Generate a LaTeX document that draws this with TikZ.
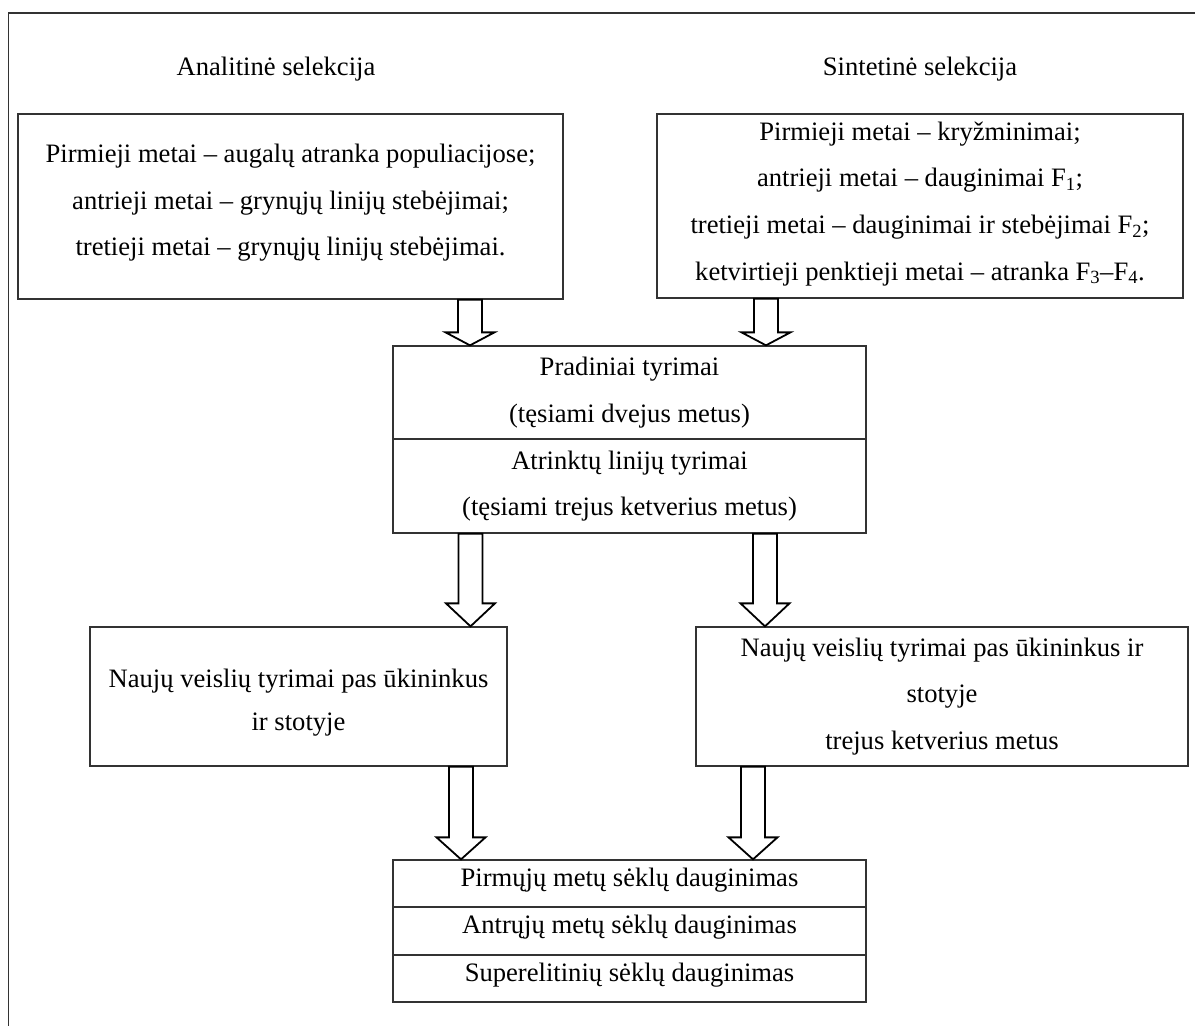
\documentclass[tikz,border=0pt]{standalone}
\usepackage{fontspec}
\setmainfont{Liberation Serif}
\usetikzlibrary{calc}
\definecolor{boxline}{HTML}{333333}
\tikzset{
  box/.style={draw=boxline, line width=1.3pt, inner sep=0pt, align=center,
    font=\fontsize{26.6pt}{46.6pt}\selectfont},
  ttl/.style={inner sep=0pt, font=\fontsize{26.6pt}{46.6pt}\selectfont},
  blk/.style={draw=black, line width=1.8pt, fill=white, line join=miter},
  frame/.style={draw=boxline, line width=1.3pt}
}
\newcommand{\blkarrow}[4]{%
  \draw[blk] let \p1=(#2.south), \p2=(#3.north) in
    (#1pt-12pt,\y1) -- (#1pt-12pt,\y2+#4pt) -- (#1pt-24.5pt,\y2+#4pt) -- (#1pt,\y2)
    -- (#1pt+24.5pt,\y2+#4pt) -- (#1pt+12pt,\y2+#4pt) -- (#1pt+12pt,\y1) -- cycle;}
\newcommand{\lowdepth}{\rule[-13pt]{0pt}{13pt}}
\begin{document}
\begin{tikzpicture}[x=1pt,y=-1pt]
\useasboundingbox (0,0) rectangle (1195,1026);
\fill[white] (0,0) rectangle (1195,1026);
\draw[frame] (8.5,1030) -- (8.5,13) -- (1200,13);

\node[ttl] (tA) at (276,69) {Analitinė selekcija};
\node[ttl] (tS) at (920,69) {Sintetinė selekcija};

\node[box, minimum width=545pt, minimum height=185pt] (lt) at (290.5,206.5)
  {\rule{0pt}{15pt}Pirmieji metai – augalų atranka populiacijose;\\
   antrieji metai – grynųjų linijų stebėjimai;\\
   tretieji metai – grynųjų linijų stebėjimai.\lowdepth};
\node[box, minimum width=526pt, minimum height=184pt] (rt) at (920,206)
  {Pirmieji metai – kryžminimai;\\
   antrieji metai – dauginimai F\textsubscript{1};\\
   tretieji metai – dauginimai ir stebėjimai F\textsubscript{2};\\
   ketvirtieji penktieji metai – atranka F\textsubscript{3}–F\textsubscript{4}.\rule[-10pt]{0pt}{10pt}};

\node[box, minimum width=473pt, minimum height=93pt] (pr1) at (629.5,392.5)
  {Pradiniai tyrimai\\(tęsiami dvejus metus)};
\node[box, minimum width=473pt, minimum height=94pt] (pr2) at (629.5,486)
  {Atrinktų linijų tyrimai\\(tęsiami trejus ketverius metus)};

\node[box, minimum width=417pt, minimum height=139pt] (ml) at (298.5,696.5)
  {\rule{0pt}{31pt}Naujų veislių tyrimai pas ūkininkus\\[-3pt]ir stotyje};
\node[box, minimum width=492pt, minimum height=139pt] (mr) at (942,696.5)
  {Naujų veislių tyrimai pas ūkininkus ir\\stotyje\\trejus ketverius metus};

\node[box, minimum width=473pt, minimum height=47pt] (sk1) at (629.5,883.5)
  {Pirmųjų metų sėklų dauginimas\lowdepth};
\node[box, minimum width=473pt, minimum height=48pt] (sk2) at (629.5,931)
  {Antrųjų metų sėklų dauginimas\lowdepth};
\node[box, minimum width=473pt, minimum height=47pt] (sk3) at (629.5,978.5)
  {Superelitinių sėklų dauginimas\lowdepth};

\blkarrow{470}{lt}{pr1}{13}
\blkarrow{766}{rt}{pr1}{13}
\blkarrow{470.5}{pr2}{ml}{23}
\blkarrow{765}{pr2}{mr}{23}
\blkarrow{461}{ml}{sk1}{22}
\blkarrow{753}{mr}{sk1}{22}
\end{tikzpicture}
\end{document}
